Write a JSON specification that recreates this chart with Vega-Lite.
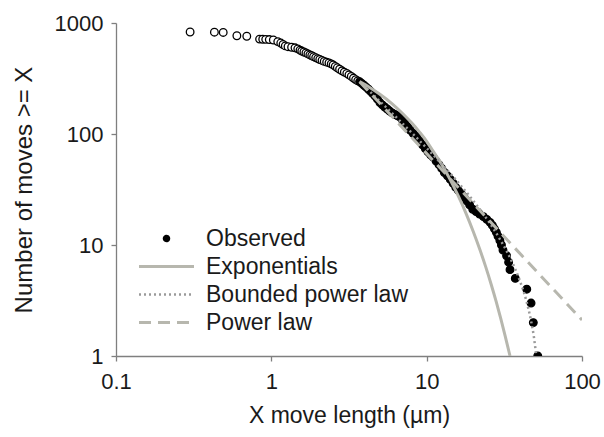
{
  "$schema": "https://vega.github.io/schema/vega-lite/v6.json",
  "width": 466,
  "height": 333,
  "autosize": {"type": "none"},
  "padding": {"left": 116, "top": 23, "right": 22, "bottom": 81},
  "background": "white",
  "config": {
    "font": "Liberation Sans",
    "view": {"stroke": null},
    "axis": {
      "grid": false,
      "domainColor": "#7f7f7f",
      "domainWidth": 1.3,
      "tickColor": "#7f7f7f",
      "tickWidth": 1.3,
      "tickSize": 5,
      "labelFontSize": 22,
      "labelColor": "#1a1a1a",
      "titleFontSize": 23,
      "titleColor": "#1a1a1a",
      "titleFontWeight": "normal",
      "labelFont": "Liberation Sans",
      "titleFont": "Liberation Sans"
    },
    "legend": {
      "labelFont": "Liberation Sans",
      "labelFontSize": 23,
      "labelColor": "#1a1a1a",
      "labelLimit": 400
    }
  },
  "datasets": {
    "obs": [
      {"x": 0.30, "n": 830, "group": "below xmin", "series": "Observed"},
      {"x": 0.43, "n": 826, "group": "below xmin", "series": "Observed"},
      {"x": 0.49, "n": 822, "group": "below xmin", "series": "Observed"},
      {"x": 0.60, "n": 768, "group": "below xmin", "series": "Observed"},
      {"x": 0.695, "n": 760, "group": "below xmin", "series": "Observed"},
      {"x": 0.84, "n": 716, "group": "below xmin", "series": "Observed"},
      {"x": 0.88, "n": 714, "group": "below xmin", "series": "Observed"},
      {"x": 0.92, "n": 712, "group": "below xmin", "series": "Observed"},
      {"x": 0.97, "n": 709, "group": "below xmin", "series": "Observed"},
      {"x": 1.03, "n": 703, "group": "below xmin", "series": "Observed"},
      {"x": 1.10, "n": 680, "group": "below xmin", "series": "Observed"},
      {"x": 1.15, "n": 660, "group": "below xmin", "series": "Observed"},
      {"x": 1.19, "n": 640, "group": "below xmin", "series": "Observed"},
      {"x": 1.23, "n": 622, "group": "below xmin", "series": "Observed"},
      {"x": 1.28, "n": 612, "group": "below xmin", "series": "Observed"},
      {"x": 1.35, "n": 605, "group": "below xmin", "series": "Observed"},
      {"x": 1.42, "n": 598, "group": "below xmin", "series": "Observed"},
      {"x": 1.48, "n": 585, "group": "below xmin", "series": "Observed"},
      {"x": 1.53, "n": 570, "group": "below xmin", "series": "Observed"},
      {"x": 1.57, "n": 559, "group": "below xmin", "series": "Observed"},
      {"x": 1.62, "n": 548, "group": "below xmin", "series": "Observed"},
      {"x": 1.67, "n": 538, "group": "below xmin", "series": "Observed"},
      {"x": 1.72, "n": 527, "group": "below xmin", "series": "Observed"},
      {"x": 1.77, "n": 516, "group": "below xmin", "series": "Observed"},
      {"x": 1.82, "n": 507, "group": "below xmin", "series": "Observed"},
      {"x": 1.87, "n": 497, "group": "below xmin", "series": "Observed"},
      {"x": 1.93, "n": 488, "group": "below xmin", "series": "Observed"},
      {"x": 1.99, "n": 478, "group": "below xmin", "series": "Observed"},
      {"x": 2.05, "n": 469, "group": "below xmin", "series": "Observed"},
      {"x": 2.12, "n": 460, "group": "below xmin", "series": "Observed"},
      {"x": 2.19, "n": 451, "group": "below xmin", "series": "Observed"},
      {"x": 2.27, "n": 444, "group": "below xmin", "series": "Observed"},
      {"x": 2.35, "n": 437, "group": "below xmin", "series": "Observed"},
      {"x": 2.43, "n": 428, "group": "below xmin", "series": "Observed"},
      {"x": 2.50, "n": 419, "group": "below xmin", "series": "Observed"},
      {"x": 2.58, "n": 407, "group": "below xmin", "series": "Observed"},
      {"x": 2.66, "n": 395, "group": "below xmin", "series": "Observed"},
      {"x": 2.75, "n": 383, "group": "below xmin", "series": "Observed"},
      {"x": 2.85, "n": 371, "group": "below xmin", "series": "Observed"},
      {"x": 2.95, "n": 361, "group": "below xmin", "series": "Observed"},
      {"x": 3.06, "n": 352, "group": "below xmin", "series": "Observed"},
      {"x": 3.16, "n": 341, "group": "below xmin", "series": "Observed"},
      {"x": 3.27, "n": 330, "group": "below xmin", "series": "Observed"},
      {"x": 3.38, "n": 319, "group": "below xmin", "series": "Observed"},
      {"x": 3.49, "n": 309, "group": "below xmin", "series": "Observed"},
      {"x": 3.60, "n": 301, "group": "below xmin", "series": "Observed"},
      {"x": 3.70, "n": 296, "group": "above xmin", "series": "Observed"},
      {"x": 3.82, "n": 286, "group": "above xmin", "series": "Observed"},
      {"x": 3.95, "n": 275, "group": "above xmin", "series": "Observed"},
      {"x": 4.08, "n": 264, "group": "above xmin", "series": "Observed"},
      {"x": 4.22, "n": 253, "group": "above xmin", "series": "Observed"},
      {"x": 4.36, "n": 242, "group": "above xmin", "series": "Observed"},
      {"x": 4.50, "n": 231, "group": "above xmin", "series": "Observed"},
      {"x": 4.66, "n": 219, "group": "above xmin", "series": "Observed"},
      {"x": 4.82, "n": 206, "group": "above xmin", "series": "Observed"},
      {"x": 5.00, "n": 192, "group": "above xmin", "series": "Observed"},
      {"x": 5.18, "n": 183, "group": "above xmin", "series": "Observed"},
      {"x": 5.37, "n": 175, "group": "above xmin", "series": "Observed"},
      {"x": 5.57, "n": 168, "group": "above xmin", "series": "Observed"},
      {"x": 5.78, "n": 161, "group": "above xmin", "series": "Observed"},
      {"x": 6.00, "n": 155, "group": "above xmin", "series": "Observed"},
      {"x": 6.25, "n": 150, "group": "above xmin", "series": "Observed"},
      {"x": 6.50, "n": 146, "group": "above xmin", "series": "Observed"},
      {"x": 6.74, "n": 142, "group": "above xmin", "series": "Observed"},
      {"x": 7.00, "n": 133, "group": "above xmin", "series": "Observed"},
      {"x": 7.27, "n": 124, "group": "above xmin", "series": "Observed"},
      {"x": 7.55, "n": 116, "group": "above xmin", "series": "Observed"},
      {"x": 7.85, "n": 108, "group": "above xmin", "series": "Observed"},
      {"x": 8.20, "n": 101, "group": "above xmin", "series": "Observed"},
      {"x": 8.63, "n": 95, "group": "above xmin", "series": "Observed"},
      {"x": 9.00, "n": 87, "group": "above xmin", "series": "Observed"},
      {"x": 9.40, "n": 80, "group": "above xmin", "series": "Observed"},
      {"x": 9.80, "n": 74, "group": "above xmin", "series": "Observed"},
      {"x": 10.2, "n": 69, "group": "above xmin", "series": "Observed"},
      {"x": 10.6, "n": 65, "group": "above xmin", "series": "Observed"},
      {"x": 11.0, "n": 62, "group": "above xmin", "series": "Observed"},
      {"x": 11.5, "n": 57, "group": "above xmin", "series": "Observed"},
      {"x": 12.0, "n": 53, "group": "above xmin", "series": "Observed"},
      {"x": 12.5, "n": 49, "group": "above xmin", "series": "Observed"},
      {"x": 13.0, "n": 45, "group": "above xmin", "series": "Observed"},
      {"x": 13.6, "n": 42, "group": "above xmin", "series": "Observed"},
      {"x": 14.2, "n": 39, "group": "above xmin", "series": "Observed"},
      {"x": 14.8, "n": 36, "group": "above xmin", "series": "Observed"},
      {"x": 15.4, "n": 33, "group": "above xmin", "series": "Observed"},
      {"x": 16.0, "n": 31, "group": "above xmin", "series": "Observed"},
      {"x": 16.7, "n": 29, "group": "above xmin", "series": "Observed"},
      {"x": 17.4, "n": 27, "group": "above xmin", "series": "Observed"},
      {"x": 18.1, "n": 25, "group": "above xmin", "series": "Observed"},
      {"x": 18.9, "n": 23, "group": "above xmin", "series": "Observed"},
      {"x": 19.8, "n": 21, "group": "above xmin", "series": "Observed"},
      {"x": 20.8, "n": 20, "group": "above xmin", "series": "Observed"},
      {"x": 21.9, "n": 19, "group": "above xmin", "series": "Observed"},
      {"x": 23.2, "n": 18, "group": "above xmin", "series": "Observed"},
      {"x": 24.4, "n": 17, "group": "above xmin", "series": "Observed"},
      {"x": 25.6, "n": 16, "group": "above xmin", "series": "Observed"},
      {"x": 26.5, "n": 15, "group": "above xmin", "series": "Observed"},
      {"x": 27.3, "n": 14, "group": "above xmin", "series": "Observed"},
      {"x": 28.1, "n": 13, "group": "above xmin", "series": "Observed"},
      {"x": 28.8, "n": 12, "group": "above xmin", "series": "Observed"},
      {"x": 29.6, "n": 11, "group": "above xmin", "series": "Observed"},
      {"x": 30.3, "n": 10, "group": "above xmin", "series": "Observed"},
      {"x": 31.0, "n": 9, "group": "above xmin", "series": "Observed"},
      {"x": 32.7, "n": 8, "group": "above xmin", "series": "Observed"},
      {"x": 33.7, "n": 7, "group": "above xmin", "series": "Observed"},
      {"x": 34.4, "n": 6, "group": "above xmin", "series": "Observed"},
      {"x": 37.2, "n": 5, "group": "above xmin", "series": "Observed"},
      {"x": 44.1, "n": 4, "group": "above xmin", "series": "Observed"},
      {"x": 47.0, "n": 3, "group": "above xmin", "series": "Observed"},
      {"x": 48.6, "n": 2, "group": "above xmin", "series": "Observed"},
      {"x": 51.9, "n": 1, "group": "above xmin", "series": "Observed"}
    ],
    "exp": [
      {"x": 3.7, "n": 296, "series": "Exponentials"},
      {"x": 4.3, "n": 262.6, "series": "Exponentials"},
      {"x": 5, "n": 228, "series": "Exponentials"},
      {"x": 6, "n": 187, "series": "Exponentials"},
      {"x": 7, "n": 153, "series": "Exponentials"},
      {"x": 8, "n": 126, "series": "Exponentials"},
      {"x": 9, "n": 104, "series": "Exponentials"},
      {"x": 10, "n": 86, "series": "Exponentials"},
      {"x": 11, "n": 70, "series": "Exponentials"},
      {"x": 12, "n": 58.5, "series": "Exponentials"},
      {"x": 14, "n": 40, "series": "Exponentials"},
      {"x": 16, "n": 27.5, "series": "Exponentials"},
      {"x": 18, "n": 19, "series": "Exponentials"},
      {"x": 20, "n": 13.1, "series": "Exponentials"},
      {"x": 22, "n": 9.1, "series": "Exponentials"},
      {"x": 24, "n": 6.35, "series": "Exponentials"},
      {"x": 26, "n": 4.43, "series": "Exponentials"},
      {"x": 28, "n": 3.1, "series": "Exponentials"},
      {"x": 30, "n": 2.17, "series": "Exponentials"},
      {"x": 32, "n": 1.52, "series": "Exponentials"},
      {"x": 34, "n": 1.07, "series": "Exponentials"},
      {"x": 34.4, "n": 1.0, "series": "Exponentials"}
    ],
    "bpl": [
      {"x": 3.7, "n": 296, "series": "Bounded power law"},
      {"x": 4.5, "n": 227.6, "series": "Bounded power law"},
      {"x": 5, "n": 197, "series": "Bounded power law"},
      {"x": 6, "n": 153.7, "series": "Bounded power law"},
      {"x": 7, "n": 124.1, "series": "Bounded power law"},
      {"x": 8, "n": 102.9, "series": "Bounded power law"},
      {"x": 10, "n": 74.6, "series": "Bounded power law"},
      {"x": 12, "n": 57, "series": "Bounded power law"},
      {"x": 15, "n": 40.4, "series": "Bounded power law"},
      {"x": 20, "n": 24.9, "series": "Bounded power law"},
      {"x": 25, "n": 16.35, "series": "Bounded power law"},
      {"x": 30, "n": 10.95, "series": "Bounded power law"},
      {"x": 35, "n": 7.31, "series": "Bounded power law"},
      {"x": 40, "n": 4.68, "series": "Bounded power law"},
      {"x": 44, "n": 3.08, "series": "Bounded power law"},
      {"x": 47, "n": 2.07, "series": "Bounded power law"},
      {"x": 49, "n": 1.49, "series": "Bounded power law"},
      {"x": 50, "n": 1.2, "series": "Bounded power law"},
      {"x": 50.85, "n": 1.0, "series": "Bounded power law"}
    ],
    "pl": [
      {"x": 3.7, "n": 296, "series": "Power law"},
      {"x": 100, "n": 2.11, "series": "Power law"}
    ]
  },
  "layer": [
    {
      "data": {"name": "obs"},
      "mark": {"type": "point", "filled": false, "size": 58, "strokeWidth": 1.3, "opacity": 1, "clip": true},
      "encoding": {
        "x": {
          "field": "x", "type": "quantitative",
          "scale": {"type": "log", "domain": [0.1, 100]},
          "axis": {"title": "X move length (µm)", "values": [0.1, 1, 10, 100], "format": "~g", "labelPadding": 10, "titlePadding": 12, "labelFlush": false}
        },
        "y": {
          "field": "n", "type": "quantitative",
          "scale": {"type": "log", "domain": [1, 1000]},
          "axis": {"title": "Number of moves >= X", "titleFontSize": 24, "values": [1, 10, 100, 1000], "format": "~g", "labelPadding": 8, "titlePadding": 18, "labelFlush": false}
        },
        "color": {
          "field": "series", "type": "nominal",
          "scale": {"domain": ["Observed", "Exponentials", "Bounded power law", "Power law"], "range": ["#000000", "#b7b7ae", "#9a9a9a", "#b7b7ae"]},
          "legend": {
            "title": null,
            "orient": "none",
            "legendX": 39,
            "legendY": 204,
            "symbolSize": 100,
            "symbolType": {"expr": "datum.value === 'Observed' ? 'M0.45,0A0.45,0.45,0,1,1,-0.45,0A0.45,0.45,0,1,1,0.45,0Z' : 'M-5.5,0H5.5'"},
            "symbolStrokeWidth": {"expr": "datum.value === 'Bounded power law' ? 2.5 : 3"},
            "symbolDash": {"expr": "datum.value === 'Power law' ? [12, 7] : (datum.value === 'Bounded power law' ? [2, 3] : [1, 0])"},
            "symbolFillColor": "#000000",
            "symbolOpacity": 1,
            "labelOffset": 28,
            "rowPadding": 4,
            "labelFontSize": 23,
            "labelLimit": 400
          }
        },
        "fill": {
          "field": "group", "type": "nominal",
          "scale": {"domain": ["below xmin", "above xmin"], "range": ["#ffffff", "#000000"]},
          "legend": null
        }
      }
    },
    {
      "data": {"name": "exp"},
      "mark": {"type": "line", "strokeWidth": 3, "interpolate": "monotone", "clip": true},
      "encoding": {
        "x": {"field": "x", "type": "quantitative"},
        "y": {"field": "n", "type": "quantitative"},
        "color": {"field": "series", "type": "nominal", "legend": null}
      }
    },
    {
      "data": {"name": "bpl"},
      "mark": {"type": "line", "strokeWidth": 2.5, "strokeDash": [2, 3], "interpolate": "monotone", "clip": true},
      "encoding": {
        "x": {"field": "x", "type": "quantitative"},
        "y": {"field": "n", "type": "quantitative"},
        "color": {"field": "series", "type": "nominal", "legend": null}
      }
    },
    {
      "data": {"name": "pl"},
      "mark": {"type": "line", "strokeWidth": 3, "strokeDash": [12, 7], "clip": true},
      "encoding": {
        "x": {"field": "x", "type": "quantitative"},
        "y": {"field": "n", "type": "quantitative"},
        "color": {"field": "series", "type": "nominal", "legend": null}
      }
    }
  ]
}
